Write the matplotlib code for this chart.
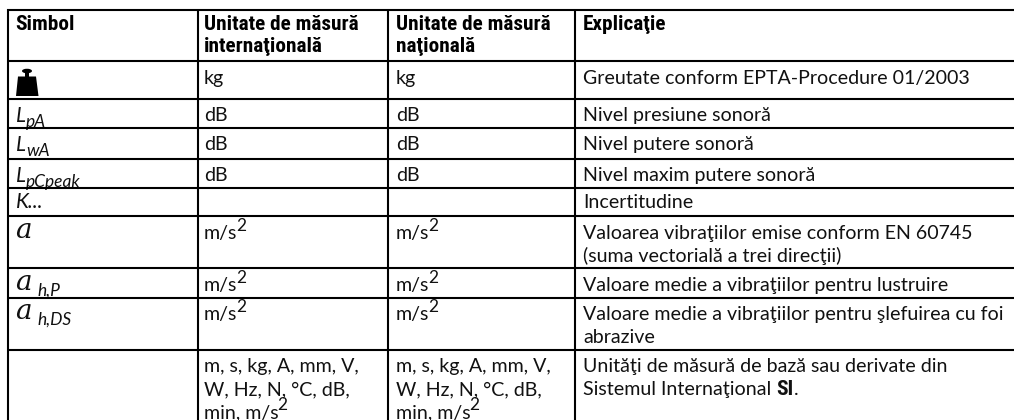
import matplotlib
matplotlib.use('Agg')
import matplotlib.pyplot as plt
from matplotlib.patches import Polygon, Ellipse, Rectangle

# table grid, in pixels of the picture
column_lines = [7.5, 197.5, 388, 575]
row_lines = [9.5, 61, 98.5, 127.5, 158.5, 187.5, 216, 268, 298, 349.5]
column_x = [15, 204, 396, 583]

headers = [['Simbol'],
           ['Unitate de măsură', 'internaţională'],
           ['Unitate de măsură', 'naţională'],
           ['Explicaţie']]
header_baselines = [30, 52]

row_baselines = [84, 121, 150, 181, 208, 239, 291, 320, 372]
units = ['kg', 'dB', 'dB', 'dB', '', 'm/s|2', 'm/s|2', 'm/s|2', '']
explanations = [['Greutate conform EPTA-Procedure 01/2003'],
                ['Nivel presiune sonoră'],
                ['Nivel putere sonoră'],
                ['Nivel maxim putere sonoră'],
                ['Incertitudine'],
                ['Valoarea vibraţiilor emise conform EN 60745', '(suma vectorială a trei direcţii)'],
                ['Valoare medie a vibraţiilor pentru lustruire'],
                ['Valoare medie a vibraţiilor pentru şlefuirea cu foi', 'abrazive'],
                ['Unităţi de măsură de bază sau derivate din', 'Sistemul Internaţional |SI|.']]
base_units = ['m, s, kg, A, mm, V,', 'W, Hz, N, °C, dB,', 'min, m/s|2']
line_step = 23

# (letter, subscript, row)
symbols_l = [('L', 'pA', 1), ('L', 'wA', 2), ('L', 'pCpeak', 3)]
symbols_a = [('', 5), ('h,P', 6), ('h,DS', 7)]

BODY = 'Lato'
HEAD = 'Roboto Condensed'
BODY_SIZE = 14.15
HEAD_SIZE = 15.3

fig = plt.figure(figsize=(10.14, 4.2), dpi=100)
ax = fig.add_axes([0, 0, 1, 1])
ax.set_xlim(0, 1014)
ax.set_ylim(420, 0)
ax.axis('off')
renderer = fig.canvas.get_renderer()


def put(x, y, s, **kw):
    # baseline anchored text, returns where the next run starts
    kw.setdefault('family', BODY)
    kw.setdefault('fontsize', BODY_SIZE)
    kw.setdefault('color', '#111111')
    t = ax.text(x, y, s, va='baseline', ha='left', **kw)
    return x + t.get_window_extent(renderer).width


def body_line(x, y, s):
    # "|" splits the runs: superscript 2 or bold SI
    parts = s.split('|')
    x = put(x, y, parts[0])
    if len(parts) == 1:
        return
    if parts[1] == '2':
        put(x - 1.5, y - 8, '2', fontsize=12.5)
    else:
        x = put(x, y, parts[1], family=HEAD, fontweight='bold', fontsize=HEAD_SIZE)
        put(x + 0.5, y, parts[2])


for x, lines in zip(column_x, headers):
    for y, s in zip(header_baselines, lines):
        put(x, y, s, family=HEAD, fontweight='bold', fontsize=HEAD_SIZE, color='black')

for y, unit, expl in zip(row_baselines, units, explanations):
    for x in column_x[1:3]:
        if unit:
            body_line(x, y, unit)
    for i, s in enumerate(expl):
        body_line(column_x[3], y + i * line_step, s)

for x in column_x[1:3]:
    for i, s in enumerate(base_units):
        body_line(x, row_baselines[8] + i * line_step, s)

# symbol column
for letter, sub, row in symbols_l:
    x = put(16, row_baselines[row] + 1, letter, fontstyle='italic', fontsize=15)
    put(x, row_baselines[row] + 6, sub, fontstyle='italic', fontsize=12.5)
put(16, row_baselines[4], 'K...', fontstyle='italic', fontsize=15)
for sub, row in symbols_a:
    put(15, row_baselines[row] - 1, 'a', family='DejaVu Serif', fontstyle='italic', fontsize=20)
    if sub:
        put(37, row_baselines[row] + 4.5, sub, fontstyle='italic', fontsize=12.5)

# weight icon of the first row
ax.add_patch(Polygon([(18, 76.5), (36, 76.5), (38.5, 96), (16, 96)], color='black', lw=0))
ax.add_patch(Rectangle((25, 72), 4, 5, color='black', lw=0))
ax.add_patch(Ellipse((27, 71), 10, 4.5, color='black', lw=0))

# grid goes off the right and bottom edge of the picture
for y in row_lines:
    ax.plot([6.5, 1014], [y, y], color='black', lw=1.5, solid_capstyle='butt', zorder=5)
for x in column_lines:
    ax.plot([x, x], [8.5, 420], color='black', lw=1.5, solid_capstyle='butt', zorder=5)

fig.savefig('out.png', dpi=100)
